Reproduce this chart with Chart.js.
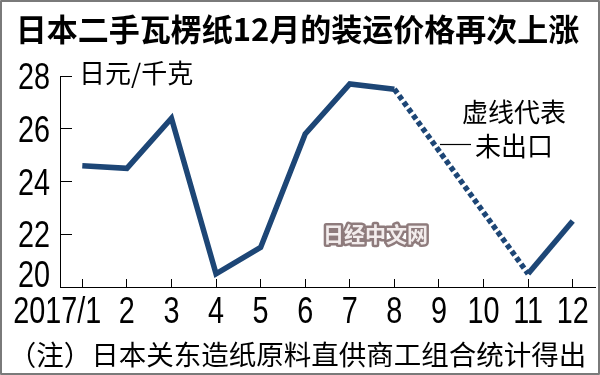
<!DOCTYPE html>
<html>
<head>
<meta charset="utf-8">
<script src="https://cdn.jsdelivr.net/npm/chart.js@4.4.1/dist/chart.umd.min.js"></script>
<style>
  html, body { margin: 0; padding: 0; background: #fff; }
  #wrap { position: relative; width: 600px; height: 375px; }
</style>
</head>
<body>
<div id="wrap"><canvas id="c" width="600" height="375"></canvas></div>
<script>
// ---- data ----
const months = ['2017/1', '2', '3', '4', '5', '6', '7', '8', '9', '10', '11', '12'];
const prices = [24.6, 24.5, 26.4, 20.5, 21.5, 25.8, 27.7, 27.5, null, null, 20.5, 22.5];
const yTicks = [20, 22, 24, 26, 28];
const titleText = '日本二手瓦楞纸12月的装运价格再次上涨';
const unitText = '日元/千克';
const noteLines = ['虚线代表', '未出口'];
const sourceText = '（注）日本关东造纸原料直供商工组合统计得出';
const watermarkText = '日经中文网';

const CJK = "'Noto Sans CJK SC', 'Noto Sans CJK JP', sans-serif";
const NUMFONT = "36px 'Liberation Sans', Arial, sans-serif";
const NARROW_SCALE = 0.8;
const LINE_COLOR = '#1d4676';
const DOTTED_TO = 10; // index of month 11 (dotted from month 8 to month 11)

function narrowText(ctx, text, x, y, align) {
  ctx.save();
  ctx.translate(x, y);
  ctx.scale(NARROW_SCALE, 1);
  ctx.textAlign = align;
  ctx.fillText(text, 0, 0);
  ctx.restore();
}

const decor = {
  id: 'decor',
  beforeDraw(chart) {
    const ctx = chart.ctx;
    ctx.save();
    ctx.fillStyle = '#fff';
    ctx.fillRect(0, 0, chart.width, chart.height);
    ctx.restore();
  },
  afterDatasetsDraw(chart) {
    const ctx = chart.ctx;
    const x = chart.scales.x, y = chart.scales.y;
    ctx.save();
    ctx.fillStyle = '#000';
    // tick labels (narrow digits), positioned through the scales
    ctx.font = NUMFONT;
    ctx.textBaseline = 'alphabetic';
    x.ticks.forEach((t, i) => {
      const px = x.getPixelForTick(i);
      const label = x.getLabelForValue(t.value);
      if (i === 0) narrowText(ctx, label, px + 19, x.top + 36, 'right');
      else narrowText(ctx, label, px, x.top + 36, 'center');
    });
    y.ticks.forEach((t, i) => {
      const py = y.getPixelForTick(i);
      const base = Math.min(py + 13, y.bottom);
      narrowText(ctx, String(t.value), y.right - 10, base, 'right');
    });
    // unit label
    ctx.font = '26px ' + CJK;
    ctx.textBaseline = 'middle';
    ctx.textAlign = 'left';
    ctx.fillText(unitText, x.left + 19, y.getPixelForValue(28) - 3);
    // annotation
    ctx.fillText(noteLines[0], 462, 112);
    ctx.fillText(noteLines[1], 475, 146);
    ctx.strokeStyle = '#000';
    ctx.lineWidth = 1.2;
    ctx.beginPath();
    ctx.moveTo(440, 144.5);
    ctx.lineTo(471, 144.5);
    ctx.stroke();
    // watermark
    ctx.font = 'bold 21px ' + CJK;
    ctx.lineJoin = 'round';
    ctx.lineWidth = 5;
    ctx.strokeStyle = '#8e7b7c';
    ctx.strokeText(watermarkText, 323, 234);
    ctx.fillStyle = '#f3eded';
    ctx.fillText(watermarkText, 323, 234);
    // frame
    ctx.strokeStyle = '#7a7a7a';
    ctx.lineWidth = 2;
    ctx.strokeRect(1, 1, chart.width - 2, chart.height - 2);
    ctx.restore();
  }
};

new Chart(document.getElementById('c'), {
  type: 'line',
  data: {
    labels: months,
    datasets: [{
      data: prices,
      borderColor: LINE_COLOR,
      backgroundColor: LINE_COLOR,
      borderWidth: 5.5,
      pointRadius: 0,
      tension: 0,
      spanGaps: true,
      borderJoinStyle: 'miter',
      borderCapStyle: 'butt',
      segment: {
        borderDash: ctx => (ctx.p1DataIndex === DOTTED_TO ? [5, 3] : undefined)
      }
    }]
  },
  options: {
    responsive: false,
    animation: false,
    devicePixelRatio: 1,
    layout: { padding: { left: 0, right: 5, top: 0, bottom: 0 } },
    plugins: {
      legend: { display: false },
      tooltip: { enabled: false },
      title: {
        display: true,
        text: titleText,
        color: '#000',
        font: { family: CJK, size: 31, weight: 'bold', lineHeight: 1.2 },
        padding: { top: 10.4, bottom: 28.4 }
      },
      subtitle: {
        display: true,
        position: 'bottom',
        text: sourceText,
        color: '#000',
        font: { family: CJK, size: 27.5, weight: 'normal', lineHeight: 1.2 },
        padding: { top: 0, bottom: 4 }
      }
    },
    scales: {
      x: {
        offset: true,
        grid: {
          drawOnChartArea: false,
          drawTicks: true,
          tickLength: -8,
          color: '#000',
          lineWidth: 1
        },
        border: { display: true, color: '#000', width: 1 },
        ticks: { display: false, autoSkip: false, maxRotation: 0 },
        afterFit(scale) { scale.height = 51; }
      },
      y: {
        min: 20,
        max: 28,
        grid: {
          drawOnChartArea: false,
          drawTicks: true,
          tickLength: -12,
          color: '#000',
          lineWidth: 1
        },
        border: { display: true, color: '#000', width: 1 },
        afterBuildTicks(scale) { scale.ticks = yTicks.map(v => ({ value: v })); },
        ticks: { display: false },
        afterFit(scale) { scale.width = 60; }
      }
    }
  },
  plugins: [decor]
});
</script>
</body>
</html>
